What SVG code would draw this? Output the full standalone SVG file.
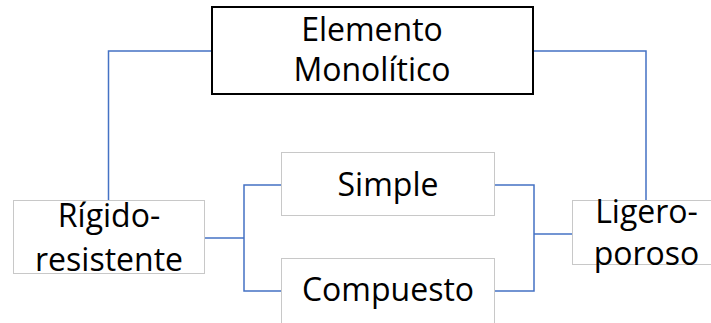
<svg xmlns="http://www.w3.org/2000/svg" width="711" height="323" viewBox="0 0 711 323">
<style>
.t{font-family:"Open Sans","Liberation Sans",sans-serif;font-size:32px;fill:#000;text-anchor:middle}
.b{fill:#fff;stroke:#c8c8c8;stroke-width:1}
.c{fill:none;stroke:#4472c4;stroke-width:1.5}
</style>
<rect width="711" height="323" fill="#fff"/>
<g id="connectors">
<polyline class="c" points="212,51 108.5,51 108.5,201"/>
<polyline class="c" points="533,51 646,51 646,201"/>
<polyline class="c" points="204,238 244,238"/>
<polyline class="c" points="282,185 244,185 244,291 282,291"/>
<polyline class="c" points="495,185 534,185 534,291 495,291"/>
<polyline class="c" points="534,234 572,234"/>
</g>
<g id="elemento">
<rect x="212" y="7" width="321" height="87" fill="#fff" stroke="#000" stroke-width="2"/>
<text class="t" x="372" y="41">Elemento</text>
<text class="t" x="372" y="81">Monolítico</text>
</g>
<g id="rigido">
<rect class="b" x="13.5" y="200.5" width="191" height="73"/>
<text class="t" x="109" y="227">Rígido-</text>
<text class="t" x="109" y="271">resistente</text>
</g>
<g id="simple">
<rect class="b" x="281.5" y="152.5" width="213" height="63"/>
<text class="t" x="388" y="196">Simple</text>
</g>
<g id="compuesto">
<rect class="b" x="281.5" y="258.5" width="213" height="70"/>
<text class="t" x="388" y="301">Compuesto</text>
</g>
<g id="ligero">
<rect class="b" x="572.5" y="200.5" width="145" height="64"/>
<text class="t" x="646.5" y="223">Ligero-</text>
<text class="t" x="646.5" y="265">poroso</text>
</g>
</svg>
